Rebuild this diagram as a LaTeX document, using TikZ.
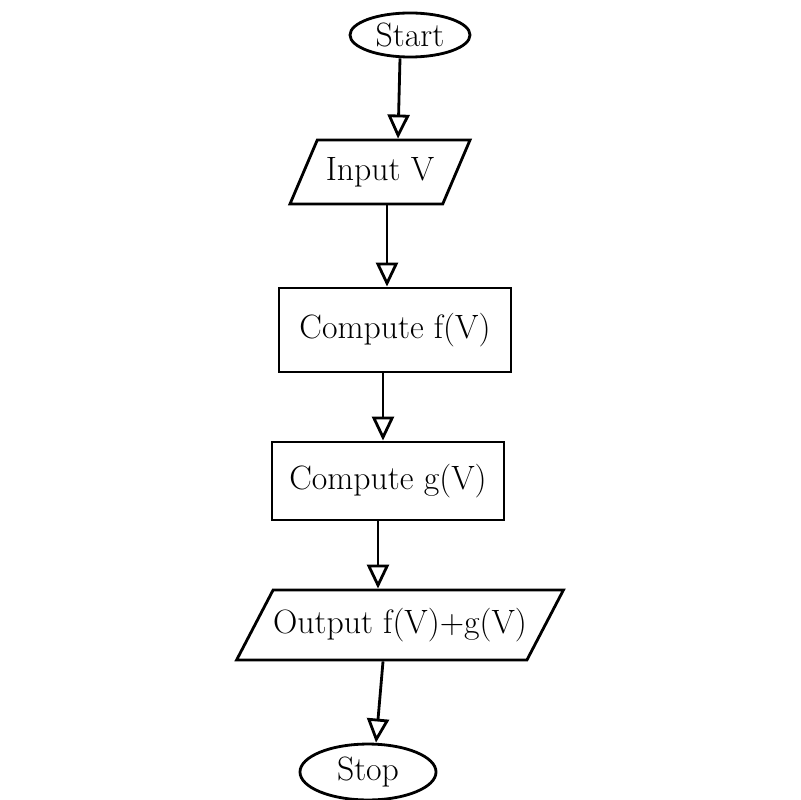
\documentclass[tikz,border=0pt]{standalone}
\usetikzlibrary{shapes.geometric,arrows.meta}

\begin{document}
\begin{tikzpicture}[x=0.025cm,y=-0.025cm,line width=2pt,font=\fontsize{24}{28}\selectfont,>={Triangle[open,length=0.6cm,width=0.55cm]}]
\useasboundingbox (0,0) rectangle (800,800);
\node (start) [draw,ellipse,minimum width=3cm,minimum height=1.1cm,inner sep=1pt] at (410,35) {Start};
\node (input) [draw,trapezium,trapezium left angle=55,trapezium right angle=125,trapezium stretches body=true,minimum width=4.5cm,minimum height=1.6cm] at (380,172) {Input V};
\node (fbox) [draw,rectangle,minimum width=5.8cm,minimum height=2.1cm] at (395,330) {Compute f(V)};
\node (gbox) [draw,rectangle,minimum width=5.8cm,minimum height=1.95cm] at (388,481) {Compute g(V)};
\node (output) [draw,trapezium,trapezium left angle=45,trapezium right angle=135,trapezium stretches body=true,minimum width=7.3cm,minimum height=1.75cm,inner xsep=0pt,inner ysep=1pt] at (400,625) {Output f(V)+g(V)};
\node (stop) [draw,ellipse,minimum width=3.4cm,minimum height=1.35cm] at (368,772) {Stop};
\draw[->] ([xshift=-0.25cm]start.south) -- ([xshift=0.45cm]input.north);
\draw[->] ([xshift=0.175cm]input.south) -- ([xshift=0.175cm]input.south |- fbox.north);
\draw[->] ([xshift=-0.3cm]fbox.south) -- ([xshift=-0.3cm]fbox.south |- gbox.north);
\draw[->] ([xshift=-0.25cm]gbox.south) -- ([xshift=-0.25cm]gbox.south |- output.north);
\draw[->] ([xshift=-0.425cm]output.south) -- ([xshift=0.2cm]stop.north);
\end{tikzpicture}
\end{document}
